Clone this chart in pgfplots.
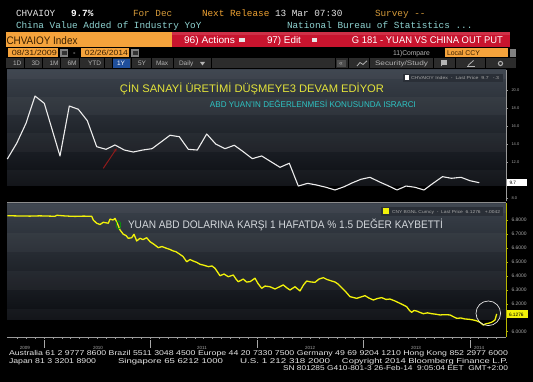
\documentclass[border=0pt]{standalone}
\usepackage{fontspec}
\setmainfont{Liberation Sans}
\newfontfamily\monof{Liberation Mono}
\usepackage{graphicx}
\usepackage{pgfplots}
\usepackage{pgfplotstable}
\pgfplotsset{compat=1.18}
\usetikzlibrary{arrows.meta}

\definecolor{bbor}{HTML}{F5A33C}
\definecolor{bbred}{HTML}{C8142E}
\definecolor{darktxt}{HTML}{3A2000}
\definecolor{hdrwhite}{HTML}{E6E6E6}
\definecolor{hdrfor}{HTML}{D49A3A}
\definecolor{hdrnext}{HTML}{EFA232}
\definecolor{hdrcyan}{HTML}{8FD4D2}
\definecolor{btnbg}{HTML}{2C2C2C}
\definecolor{btntxt}{HTML}{B4B4B4}
\definecolor{btnblue}{HTML}{1F4F9C}
\definecolor{titleyellow}{HTML}{E4E43A}
\definecolor{subcyan}{HTML}{2EC4C4}
\definecolor{bottomtxt}{HTML}{D4D8DC}
\definecolor{linewhite}{HTML}{EDEDED}
\definecolor{cnyyellow}{HTML}{F2F20A}
\definecolor{tickgray}{HTML}{A8A8A8}
\definecolor{axisgray}{HTML}{9A9A9A}
\definecolor{legbg}{HTML}{2A2F37}
\definecolor{sepgray}{HTML}{8C8C8C}
\definecolor{arrowred}{HTML}{8E1B1B}
\definecolor{pgtop}{HTML}{3A414B}
\definecolor{pgbot}{HTML}{0B0D11}
\definecolor{axisyel}{HTML}{B8B800}

\newlength\tw
\newcommand\fitx[2]{\settowidth\tw{#2}\pgfmathsetmacro\sx{#1/\tw}\scalebox{\sx}[1]{#2}}
\newcommand\fs[1]{\fontsize{#1}{#1}\selectfont}

% China value added of industry YoY (monthly)
\pgfplotstableread{
x y
2009.6554 12.33
2009.7437 14.08
2009.8310 16.30
2009.9155 19.33
2010.0028 18.52
2010.1502 12.67
2010.2376 18.22
2010.3221 17.86
2010.4066 16.59
2010.4948 13.70
2010.5822 13.41
2010.6667 13.89
2010.7540 13.33
2010.8385 13.11
2010.9268 13.33
2011.0141 13.48
2011.0986 14.22
2011.1831 14.97
2011.2704 14.81
2011.3549 13.41
2011.4394 13.33
2011.5277 15.11
2011.6122 14.00
2011.6995 13.48
2011.7869 13.86
2011.8714 13.14
2011.9559 12.37
2012.0441 12.67
2012.1315 12.03
2012.2160 11.41
2012.3033 11.86
2012.3878 9.33
2012.4761 9.63
2012.5606 9.44
2012.6479 9.19
2012.7324 8.89
2012.8197 9.26
2012.8920 9.67
2012.9765 10.08
2013.0610 10.30
2013.1455 9.81
2013.2300 9.37
2013.3146 8.89
2013.3991 9.33
2013.4836 9.19
2013.5681 8.89
2013.6526 9.63
2013.7418 10.37
2013.8263 10.19
2013.9155 10.30
2014.0000 9.92
2014.0873 9.70
}\ipdata

% USD/CNY
\pgfplotstableread{
x y
2009.6554 6.831
2009.7700 6.829
2009.8690 6.828
2009.9600 6.830
2010.1030 6.827
2010.1220 6.834
2010.2000 6.829
2010.2910 6.826
2010.3700 6.828
2010.4479 6.827
2010.4629 6.800
2010.4948 6.777
2010.5258 6.768
2010.5568 6.784
2010.6038 6.777
2010.6197 6.807
2010.6479 6.800
2010.6667 6.812
2010.6883 6.777
2010.7136 6.729
2010.7446 6.698
2010.7700 6.689
2010.7915 6.669
2010.8235 6.673
2010.8451 6.698
2010.8704 6.650
2010.9014 6.669
2010.9296 6.660
2010.9643 6.673
2010.9953 6.645
2011.0329 6.626
2011.0732 6.602
2011.1080 6.610
2011.1521 6.597
2011.1831 6.589
2011.2141 6.578
2011.2394 6.573
2011.2770 6.554
2011.3052 6.539
2011.3399 6.501
2011.3709 6.517
2011.4019 6.506
2011.4366 6.496
2011.4648 6.483
2011.5023 6.476
2011.5427 6.466
2011.5775 6.471
2011.6056 6.454
2011.6291 6.428
2011.6526 6.401
2011.6901 6.413
2011.7305 6.394
2011.7775 6.406
2011.8028 6.377
2011.8244 6.358
2011.8714 6.377
2011.9014 6.356
2011.9343 6.358
2011.9812 6.383
2012.0094 6.345
2012.0441 6.311
2012.0751 6.327
2012.1221 6.322
2012.1690 6.306
2012.2066 6.320
2012.2469 6.335
2012.2817 6.313
2012.3099 6.299
2012.3568 6.322
2012.4038 6.292
2012.4366 6.335
2012.4667 6.363
2012.5070 6.356
2012.5446 6.354
2012.5822 6.377
2012.6225 6.387
2012.6573 6.374
2012.7014 6.363
2012.7324 6.356
2012.7634 6.340
2012.7934 6.317
2012.8263 6.292
2012.8732 6.251
2012.9362 6.239
2012.9765 6.249
2013.0141 6.258
2013.0516 6.241
2013.0920 6.227
2013.1315 6.238
2013.1709 6.244
2013.2113 6.231
2013.2488 6.234
2013.2958 6.220
2013.3427 6.203
2013.3756 6.191
2013.4056 6.179
2013.4319 6.152
2013.4526 6.139
2013.4742 6.152
2013.4995 6.148
2013.5305 6.138
2013.5615 6.129
2013.6009 6.135
2013.6404 6.129
2013.6808 6.125
2013.7183 6.120
2013.7653 6.122
2013.8122 6.120
2013.8451 6.107
2013.8751 6.096
2013.9155 6.098
2013.9531 6.091
2013.9906 6.089
2014.0310 6.084
2014.0657 6.077
2014.0939 6.067
2014.1249 6.048
2014.1502 6.057
2014.1718 6.060
2014.1972 6.066
2014.2131 6.072
2014.2347 6.084
2014.2507 6.1276
}\cnydata

\begin{document}
\begin{tikzpicture}
\fill[black] (0,0) rectangle (533bp,382bp);
\useasboundingbox (0,0) rectangle (533bp,382bp);
% panel backgrounds
\shade[top color=pgtop, bottom color=pgbot] (7bp,312bp) rectangle (506bp,196bp);
\shade[top color=pgtop, bottom color=pgbot] (7bp,178bp) rectangle (506bp,62bp);

\begin{scope}[x=1bp,y=-1bp,shift={(0,382bp)},every node/.style={inner sep=0pt,outer sep=0pt}]
% bands
\fill[white,opacity=0.035] (7,70) rectangle (506,79);
\fill[white,opacity=0.035] (7,97) rectangle (506,115);
\fill[white,opacity=0.035] (7,133) rectangle (506,152);
\fill[white,opacity=0.035] (7,170) rectangle (506,186);
\fill[white,opacity=0.035] (7,204) rectangle (506,213);
\fill[white,opacity=0.035] (7,233) rectangle (506,252);
\fill[white,opacity=0.035] (7,271) rectangle (506,290);
\fill[white,opacity=0.035] (7,309) rectangle (506,320);

% header row 1
\node[anchor=base west,font=\monof\fs{9.4},text=hdrwhite] at (16,16.6) {CHVAIOY};
\node[anchor=base west,font=\monof\bfseries\fs{9.4},text=white] at (71,16.6) {9.7\%};
\node[anchor=base west,font=\monof\fs{9.4},text=hdrfor] at (133,16.6) {For Dec};
\node[anchor=base west,font=\monof\fs{9.4},text=hdrnext] at (202,16.6) {Next Release};
\node[anchor=base west,font=\monof\fs{9.4},text=hdrwhite] at (275,16.6) {13 Mar 07:30};
\node[anchor=base west,font=\monof\fs{9.4},text=hdrfor] at (375,16.6) {Survey -{}-};
% header row 2
\node[anchor=base west,font=\monof\fs{9.4},text=hdrcyan] at (16,28.3) {China Value Added of Industry YoY};
\node[anchor=base west,font=\monof\fs{9.4},text=hdrcyan] at (287,28.3) {National Bureau of Statistics ...};

% orange / red bar
\fill[bbor] (6,32) rectangle (172,47);
\node[anchor=base west,font=\fs{11},text=darktxt] at (6.5,44.3) {\fitx{71bp}{CHVAIOY Index}};
\fill[bbred] (172,32) rectangle (510,47);
\fill[white,opacity=0.12] (172,32) rectangle (510,35);
\node[anchor=base west,font=\fs{9.8},text=white] at (184,43.5) {\fitx{51bp}{96) Actions}};
\fill[white!80!gray] (238.5,37.8) rectangle (244.5,41.8);
\node[anchor=base west,font=\fs{9.8},text=white] at (267,43.5) {\fitx{34bp}{97) Edit}};
\fill[white!80!gray] (311.5,37.8) rectangle (317,41.8);
\node[anchor=base west,font=\fs{9.8},text=white] at (352,43.5) {\fitx{151bp}{G 181 - YUAN VS CHINA OUT PUT}};

% date row
\fill[bbor] (8,48.5) rectangle (58,57);
\node[anchor=base west,font=\fs{7.5},text=darktxt] at (12,55.8) {\fitx{45bp}{08/31/2009}};
\fill[gray] (60,49) rectangle (68,57);
\fill[gray!40!black] (61.5,51) rectangle (66.5,55.5);
\node[anchor=base west,font=\fs{7.5},text=hdrwhite] at (73,55.8) {-};
\fill[bbor] (81,48.5) rectangle (129,57);
\node[anchor=base west,font=\fs{7.5},text=darktxt] at (85,55.8) {\fitx{43bp}{02/26/2014}};
\fill[gray] (131,49) rectangle (139,57);
\fill[gray!40!black] (132.5,51) rectangle (137.5,55.5);
\node[anchor=base west,font=\fs{7},text=btntxt] at (393,55.8) {\fitx{37bp}{11)Compare}};
\fill[bbor] (445,48.5) rectangle (508,57);
\node[anchor=base west,font=\fs{7},text=darktxt] at (447,55.8) {\fitx{33bp}{Local CCY}};
\fill[gray] (509.5,49) rectangle (516,57);

% button row
\fill[btnbg] (6,58.5) rectangle (516,68.5);
\foreach \xx in {24,42,60,79,104,112,131,151,173,211,335,348,369,433,455,485}{
  \draw[black,line width=0.8] (\xx,58.5) -- (\xx,68.5);}
\fill[btnblue] (113,59.3) rectangle (130,67.7);
\node[anchor=base west,font=\fs{6.5},text=btntxt] at (13,66) {1D};
\node[anchor=base west,font=\fs{6.5},text=btntxt] at (31.5,66) {3D};
\node[anchor=base west,font=\fs{6.5},text=btntxt] at (49.5,66) {1M};
\node[anchor=base west,font=\fs{6.5},text=btntxt] at (67.5,66) {6M};
\node[anchor=base west,font=\fs{6.5},text=btntxt] at (88,66) {YTD};
\node[anchor=base west,font=\fs{6.5},text=white] at (117,66) {1Y};
\node[anchor=base west,font=\fs{6.5},text=btntxt] at (138,66) {5Y};
\node[anchor=base west,font=\fs{6.5},text=btntxt] at (156,66) {Max};
\node[anchor=base west,font=\fs{6.5},text=btntxt] at (179,66) {Daily};
\fill[btntxt] (200,62) -- (205,62) -- (202.5,65.5) -- cycle;
\fill[gray!60!black] (337,60) rectangle (345.5,67);
\node[anchor=base west,font=\fs{6.5},text=btntxt] at (339,65.8) {«};
\draw[btntxt,line width=0.8] (357,66) -- (360,62.5) -- (363,64.5) -- (367,60.8);
\node[anchor=base west,font=\fs{6.5},text=btntxt] at (375,66) {\fitx{53bp}{Security/Study}};
\fill[btntxt] (440.5,60.5) rectangle (446.5,65);
\draw[btntxt,line width=0.8] (441,66.5) -- (441,60.5);
\draw[btntxt,line width=0.8] (467,66.5) -- (475,66.5);
\draw[btntxt,line width=0.8] (468,65.5) -- (473.5,60.5);
\draw[btntxt,line width=1] (500.5,63.5) circle [radius=2.1];
\end{scope}

% ---------- top axis: industry value added YoY ----------
\begin{axis}[
  at={(7bp,181bp)}, anchor=south west, scale only axis,
  width=499bp, height=131bp,
  xmin=2009.6526, xmax=2014.338, ymin=7.6667, ymax=22.2222,
  axis x line=none, axis y line*=right,
  y axis line style={draw=axisgray, line width=0.5bp},
  ytick={8,12,14,16,18,20},
  extra y ticks={10}, extra y tick labels={},
  /pgf/number format/assume math mode=true,
  yticklabel style={/pgf/number format/fixed, /pgf/number format/fixed zerofill, /pgf/number format/precision=1},
  tick label style={font=\fs{4}, text=tickgray},
  tick align=outside, major tick length=2bp,
  tick style={draw=axisgray, line width=0.5bp},
]
\addplot[draw=linewhite, line width=1.1bp, line join=round, mark=none] table[x=x,y=y] {\ipdata};
\end{axis}

% ---------- bottom axis: USD/CNY ----------
\begin{axis}[
  at={(7bp,45bp)}, anchor=south west, scale only axis,
  width=499bp, height=134bp,
  xmin=2009.6526, xmax=2014.338, ymin=5.962, ymax=6.922,
  axis x line*=bottom, axis y line*=right,
  x axis line style={draw=axisgray, line width=0.4bp},
  y axis line style={draw=axisyel, line width=0.5bp},
  xtick={2009.82,2010.507,2011.484,2012.498,2013.493,2014.085},
  xticklabels={2009,2010,2011,2012,2013,2014},
  major x tick style={draw=none},
  minor xtick={2009.75,2009.8333,...,2014.25},
  minor x tick style={draw=axisgray, line width=0.4bp},
  minor tick length=1.5bp,
  ytick={6.0,6.2,6.3,6.4,6.5,6.6,6.7,6.8},
  extra y ticks={6.1}, extra y tick labels={},
  /pgf/number format/assume math mode=true,
  yticklabel style={/pgf/number format/fixed, /pgf/number format/fixed zerofill, /pgf/number format/precision=4, font=\fs{5}},
  xticklabel style={font=\fs{4.5}, yshift=-4bp},
  tick label style={text=tickgray},
  tick align=outside, major tick length=2bp,
  major y tick style={draw=axisyel, line width=0.5bp},
]
\addplot[draw=cnyyellow, line width=1.3bp, line join=round, mark=none] table[x=x,y=y] {\cnydata};
\end{axis}

% ---------- overlay annotations ----------
\begin{scope}[x=1bp,y=-1bp,shift={(0,382bp)},every node/.style={inner sep=0pt,outer sep=0pt}]
\draw[sepgray,line width=1.5] (7,202.5) -- (506,202.5);
% year separators on time axis
\foreach \xx in {44,150,257,363,470}{\draw[tickgray,line width=0.6] (\xx,340) -- (\xx,348);}
% titles
\node[anchor=base west,font=\fs{11},text=titleyellow] at (120,93) {\fitx{264bp}{ÇİN SANAYİ ÜRETİMİ DÜŞMEYE3 DEVAM EDİYOR}};
\node[anchor=base west,font=\fs{8.4},text=subcyan] at (210,107.7) {\fitx{206bp}{ABD YUAN'IN DEĞERLENMESİ KONUSUNDA ISRARCI}};
\node[anchor=base west,font=\fs{11},text=bottomtxt] at (128,229) {\fitx{315bp}{YUAN ABD DOLARINA KARŞI 1 HAFATDA \% 1.5 DEĞER KAYBETTİ}};
% legends
\fill[legbg] (403,74) rectangle (503,82.5);
\fill[white] (404.5,75.5) rectangle (409,80.5);
\node[anchor=base west,font=\fs{4.3},text=tickgray] at (411,80) {\fitx{88bp}{CHVAIOY Index \ - \ Last Price \ 9.7 \ \ -.3}};
\fill[legbg] (381,207) rectangle (503,216);
\fill[cnyyellow] (383,208.5) rectangle (389,214);
\node[anchor=base west,font=\fs{4.3},text=tickgray] at (392,213.5) {\fitx{108bp}{CNY BGNL Curncy \ - \ Last Price \ 6.1276 \ \ +.0042}};
% last value boxes
\fill[white] (507,179.5) rectangle (527,186.5);
\node[anchor=base west,font=\fs{4.8},text=black] at (509.5,185) {9.7};
\fill[cnyyellow] (507,310.5) rectangle (528,318.5);
\node[anchor=base west,font=\fs{4.8},text=black] at (509,316.5) {6.1276};
% arrow and circles
\draw[arrowred,line width=1bp,-{Stealth[length=3.5bp,width=3bp]}] (103.3,168.3) -- (116.7,148.3);
\draw[green!65!black,line width=0.6] (118.5,225) ellipse [x radius=2.3, y radius=4.2];
\draw[white!80!gray,line width=0.7] (488.3,313.3) circle [radius=12.3];
% footer
\node[anchor=base west,font=\fs{7},text=hdrwhite] at (9,356) {\fitx{499bp}{Australia 61 2 9777 8600 Brazil 5511 3048 4500 Europe 44 20 7330 7500 Germany 49 69 9204 1210 Hong Kong 852 2977 6000}};
\node[anchor=base west,font=\fs{7},text=hdrwhite] at (9,363.3) {\fitx{87bp}{Japan 81 3 3201 8900}};
\node[anchor=base west,font=\fs{7},text=hdrwhite] at (118,363.3) {\fitx{105bp}{Singapore 65 6212 1000}};
\node[anchor=base west,font=\fs{7},text=hdrwhite] at (240,363.3) {\fitx{90bp}{U.S. 1 212 318 2000}};
\node[anchor=base west,font=\fs{7},text=hdrwhite] at (342,363.3) {\fitx{166bp}{Copyright 2014 Bloomberg Finance L.P.}};
\node[anchor=base west,font=\fs{7},text=hdrwhite] at (283,370.7) {\fitx{225bp}{SN 801285 G410-801-3 26-Feb-14 \ 9:05:04 EET \ GMT+2:00}};
\end{scope}
\end{tikzpicture}
\end{document}
